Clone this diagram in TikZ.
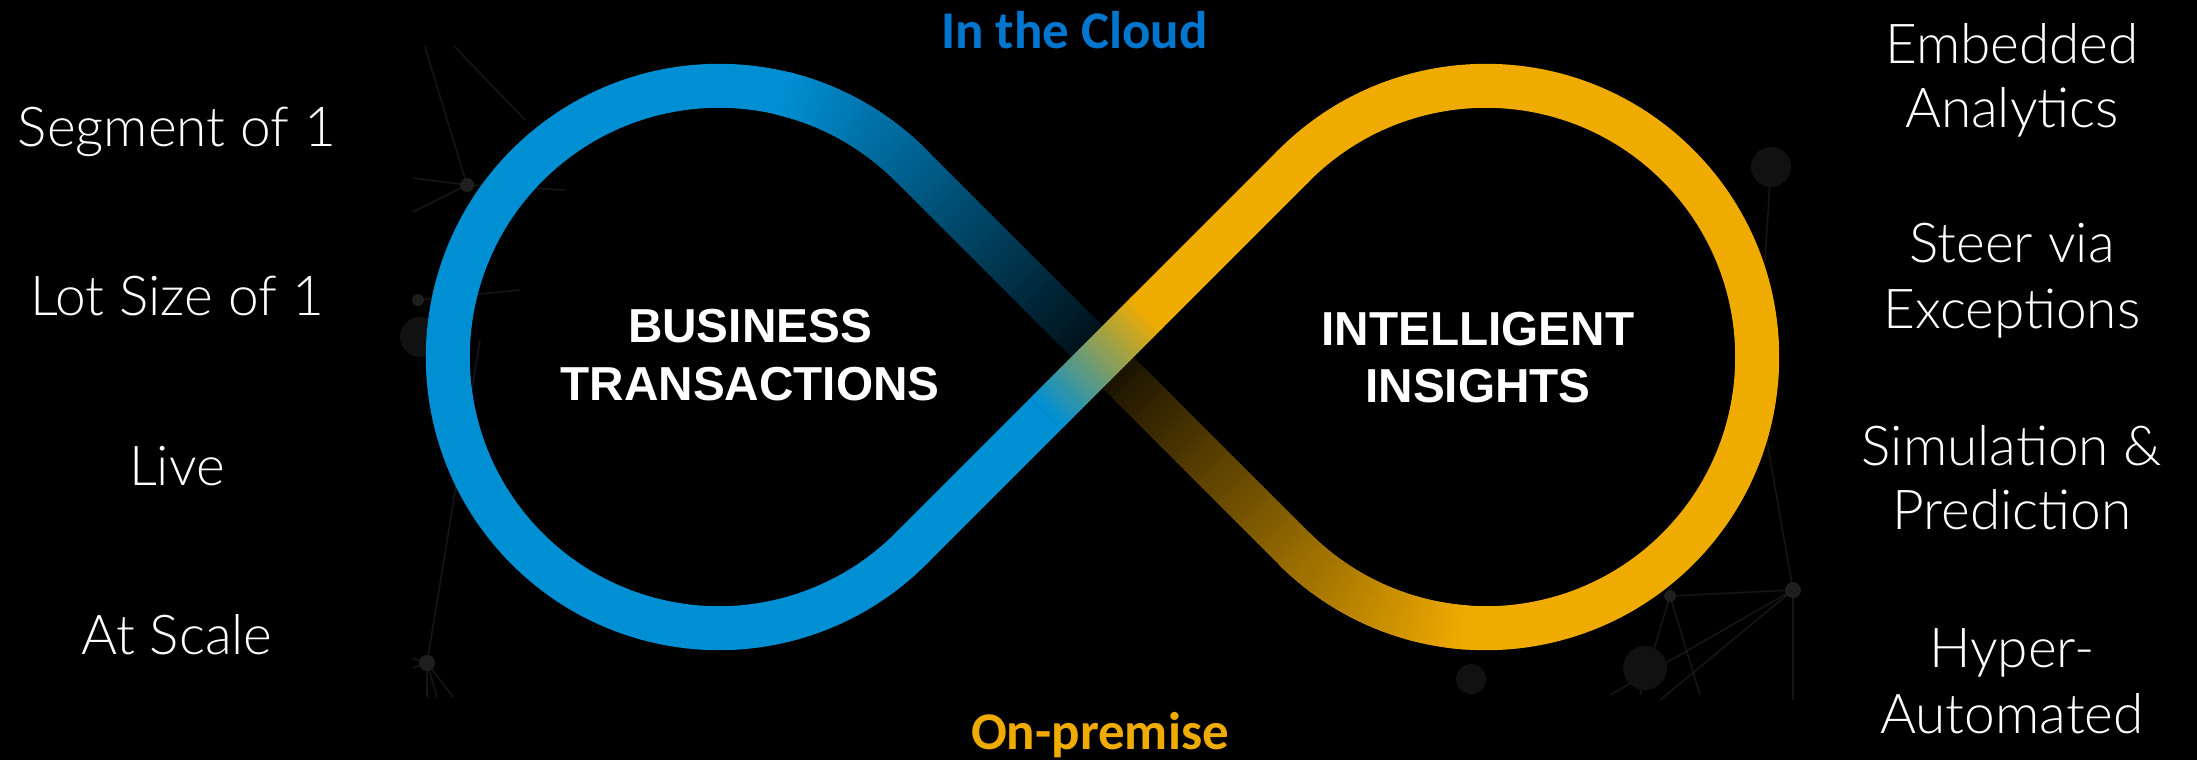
\documentclass[tikz,border=0pt]{standalone}
\usepackage{fontspec}
\usepackage{graphicx}
\usetikzlibrary{calc}
\setmainfont{Liberation Sans}
\IfFontExistsTF{Lato Light}{\newfontfamily\sidefont{Lato Light}}{\newfontfamily\sidefont{Lato}}
\newfontfamily\calfont{Carlito}
\definecolor{cblue}{RGB}{0,143,211}
\definecolor{cgold}{RGB}{240,171,0}
\definecolor{tblue}{RGB}{0,118,206}
\definecolor{netc}{RGB}{21,21,21}
\definecolor{netd}{RGB}{30,30,30}
\definecolor{netb}{RGB}{17,17,17}
\begin{document}
\begin{tikzpicture}[x=0.1mm,y=0.1mm,
  band/.style={line width=4.4mm},
  side/.style={font=\sidefont\fontsize{15.65}{18}\selectfont, text=white, anchor=base, inner sep=0pt},
  core/.style={font=\bfseries\fontsize{13.57}{16}\selectfont, text=white, anchor=base, inner sep=0pt},
  head/.style={font=\calfont\bfseries\fontsize{15.08}{18}\selectfont, anchor=base, inner sep=0pt},
  netline/.style={draw=netc, line width=0.16mm},
  netdot/.style={fill=netd},
  netblob/.style={fill=netb}
]
\fill[black] (0,0) rectangle (2197,760);
\useasboundingbox (0,0) rectangle (2197,760);

% faint network background
\draw[netline] (425,713) -- (467,575) -- (413,582);
\draw[netline] (455,713) -- (525,640);
\draw[netline] (467,575) -- (565,570);
\draw[netline] (467,575) -- (413,548);
\draw[netline] (418,460) -- (520,470);
\draw[netline] (480,420) -- (427,97);
\draw[netline] (427,97) -- (413,102);
\draw[netline] (427,97) -- (413,92);
\draw[netline] (427,97) -- (427,63);
\draw[netline] (427,97) -- (437,63);
\draw[netline] (427,97) -- (453,63);
\fill[netblob] (420,423) circle[radius=20];
\fill[netdot] (467,575) circle[radius=7];
\fill[netdot] (418,460) circle[radius=6];
\fill[netdot] (427,97) circle[radius=8];
\draw[netline] (1771,593) -- (1763,470);
\draw[netline] (1670,164) -- (1793,170);
\draw[netline] (1793,170) -- (1610,65);
\draw[netline] (1793,170) -- (1660,60);
\draw[netline] (1670,164) -- (1640,65);
\draw[netline] (1670,164) -- (1700,65);
\draw[netline] (1793,170) -- (1765,330);
\draw[netline] (1793,170) -- (1793,60);
\fill[netblob] (1771,593) circle[radius=20];
\fill[netdot] (1670,164) circle[radius=6];
\fill[netdot] (1793,170) circle[radius=8];
\fill[netblob] (1645,92) circle[radius=22];
\fill[netblob] (1471,81) circle[radius=15];

% infinity loop
\coordinate (L) at (719,403);
\coordinate (R) at (1486,403);
\coordinate (C) at (1102.5,403);
\def\rad{271.2}
\path (L) ++(-45:\rad) coordinate (TLL);
\path (R) ++(135:\rad) coordinate (TRU);

\draw[band,cblue] (L) ++(45:\rad) arc[start angle=45,end angle=316,radius=\rad];
\draw[band,cgold] (R) ++(136:\rad) arc[start angle=136,end angle=-135,radius=\rad];

% descending strand: blue -> dark -> gold
\foreach \a in {77,76,...,45}{
  \pgfmathtruncatemacro\p{100*(0.08+0.92*min(1,(271.2+(\a-45)/57.2958*271.2)/420))}
  \draw[band,cblue!\p!black] (L) ++(\a:\rad) arc[start angle=\a,end angle=\a-1.4,radius=\rad];
}
\foreach \d in {-271,-265,...,-1}{
  \pgfmathtruncatemacro\p{100*(0.08+0.92*min(1,(0-(\d))/420))}
  \draw[band,cblue!\p!black] ({1102.5+(\d)*0.70711},{403-(\d)*0.70711}) -- ({1102.5+(\d+7.5)*0.70711},{403-(\d+7.5)*0.70711});
}
\foreach \d in {0,6,...,270}{
  \pgfmathtruncatemacro\p{100*(0.08+0.92*min(1,(\d)/460))}
  \draw[band,cgold!\p!black] ({1102.5+(\d)*0.70711},{403-(\d)*0.70711}) -- ({1102.5+(\d+7.5)*0.70711},{403-(\d+7.5)*0.70711});
}
\foreach \a in {225,226,...,265}{
  \pgfmathtruncatemacro\p{100*(0.08+0.92*min(1,(271.2+(\a-225)/57.2958*271.2)/460))}
  \draw[band,cgold!\p!black] (R) ++(\a:\rad) arc[start angle=\a,end angle=\a+1.4,radius=\rad];
}

% ascending strand: blue -> gold, on top
\draw[band,cblue] (TLL) -- ({1102.5-80*0.70711},{403-80*0.70711});
\foreach \d in {-80,-76,...,60}{
  \pgfmathtruncatemacro\g{min(100,max(0,((\d)+80)/140*100))}
  \draw[band,cgold!\g!cblue] ({1102.5+(\d)*0.70711},{403+(\d)*0.70711}) -- ({1102.5+(\d+5.5)*0.70711},{403+(\d+5.5)*0.70711});
}
\draw[band,cgold] ({1102.5+60*0.70711},{403+60*0.70711}) -- (TRU);

% texts
\node[side] (s1) at (177,614) {Segment of 1};
\node[side] (s2) at (177,445) {Lot Size of 1};
\node[side] (s3) at (177,275) {Live};
\node[side] (s4) at (177,106) {At Scale};

\node[side] (r1a) at (2012,697) {Embedded};
\node[side] (r1b) at (2012,633) {Analytics};
\node[side] (r2a) at (2012,498) {Steer via};
\node[side] (r2b) at (2012,432) {Exceptions};
\node[side] (r3a) at (2012,295) {Simulation \&};
\node[side] (r3b) at (2012,231) {Prediction};
\node[side] (r4a) at (2012,93) {Hyper-};
\node[side] (r4b) at (2012,27) {Automated};

\node[core] (b1) at (750,418) {BUSINESS};
\node[core] (b2) at (750,360) {TRANSACTIONS};
\node[core] (i1) at (1478,415) {INTELLIGENT};
\node[core] (i2) at (1478,358) {INSIGHTS};

\node[head,text=tblue] (cloud) at (1074.5,712) {In the Cloud};
\node[head,text=cgold] (onprem) at (1100,11) {On-premise};
\end{tikzpicture}
\end{document}
